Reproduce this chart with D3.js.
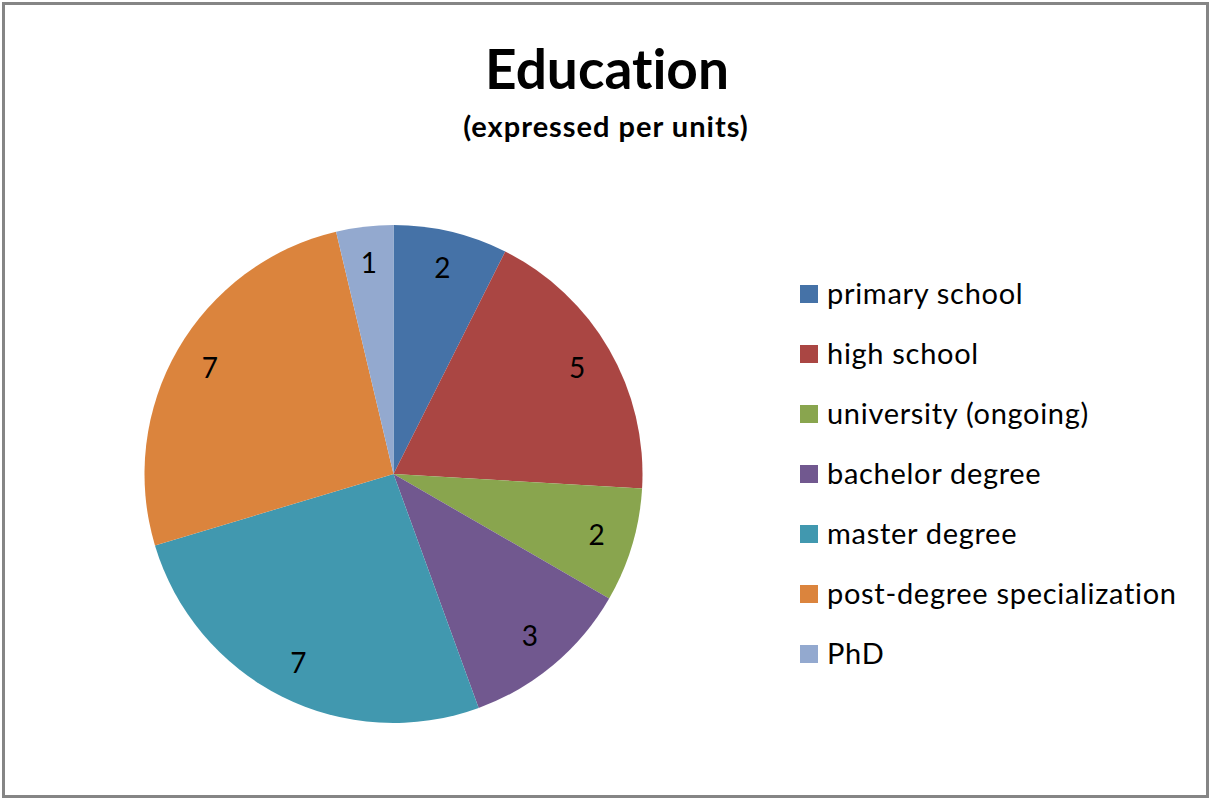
<!DOCTYPE html>
<html>
<head>
<meta charset="utf-8">
<script src="https://cdn.jsdelivr.net/npm/d3@7"></script>
<style>
  html, body { margin: 0; padding: 0; background: #fff; }
  svg { display: block; }
  text { font-variant-ligatures: none; font-feature-settings: "liga" 0, "clig" 0; }
</style>
</head>
<body>
<div id="chart"></div>
<script>
// categorias e valores do gráfico
const categories = ["primary school", "high school", "university (ongoing)", "bachelor degree", "master degree", "post-degree specialization", "PhD"];
const values = [2, 5, 2, 3, 7, 7, 1];
const colors = ["#4572A7", "#AA4643", "#89A54E", "#71588F", "#4198AF", "#DB843D", "#93A9CF"];

const W = 1210, H = 799;
const font = "Lato, 'Open Sans', sans-serif";

const svg = d3.select("#chart").append("svg")
  .attr("width", W)
  .attr("height", H);

// moldura
svg.append("rect")
  .attr("x", 3.5).attr("y", 3.5)
  .attr("width", 1204).attr("height", 793)
  .attr("fill", "#fff")
  .attr("stroke", "#858585")
  .attr("stroke-width", 3);

// título
svg.append("text")
  .attr("x", 607).attr("y", 89)
  .attr("text-anchor", "middle")
  .style("font-family", font)
  .style("font-weight", "bold")
  .style("font-size", "55px")
  .text("Education");

svg.append("text")
  .attr("x", 606).attr("y", 137)
  .attr("text-anchor", "middle")
  .style("font-family", font)
  .style("font-weight", "bold")
  .style("font-size", "29px")
  .style("letter-spacing", "1px")
  .text("(expressed per units)");

// pizza
const data = categories.map((c, i) => ({ name: c, value: values[i], color: colors[i] }));
const radius = 249;
const pie = d3.pie().value((d) => d.value).sort(null);
const arc = d3.arc().innerRadius(0).outerRadius(radius);
const labelArc = d3.arc().innerRadius(212).outerRadius(212);

const g = svg.append("g").attr("transform", "translate(393.5,474)");

g.selectAll("path")
  .data(pie(data))
  .enter()
  .append("path")
  .attr("d", arc)
  .attr("fill", (d) => d.data.color);

g.selectAll(".label")
  .data(pie(data))
  .enter()
  .append("text")
  .attr("class", "label")
  .attr("transform", (d) => `translate(${labelArc.centroid(d)})`)
  .attr("text-anchor", "middle")
  .attr("dy", "0.35em")
  .style("font-family", font)
  .style("font-size", "28px")
  .attr("fill", "#000")
  .text((d) => d.data.value);

// legenda
const legend = svg.append("g").attr("transform", "translate(800,294)");
const item = legend.selectAll("g")
  .data(data)
  .enter()
  .append("g")
  .attr("transform", (d, i) => `translate(0,${i * 60})`);

item.append("rect")
  .attr("x", 0).attr("y", -9)
  .attr("width", 18).attr("height", 18)
  .attr("fill", (d) => d.color);

item.append("text")
  .attr("x", 27).attr("y", 0)
  .attr("dy", "0.35em")
  .style("font-family", font)
  .style("font-size", "29px")
  .style("letter-spacing", "0.7px")
  .attr("fill", "#000")
  .text((d) => d.name);
</script>
</body>
</html>
